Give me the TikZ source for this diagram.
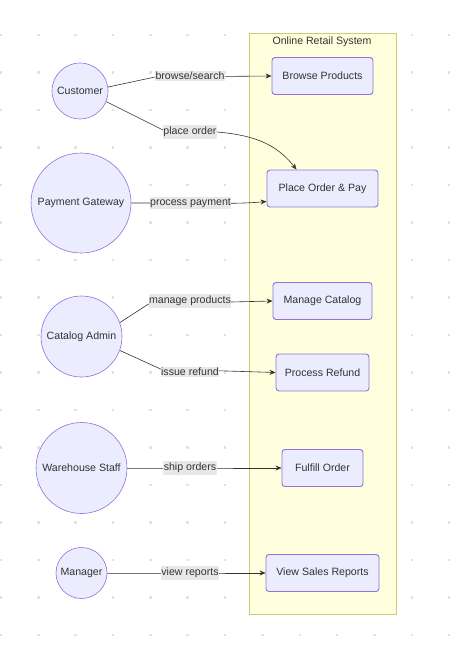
\documentclass[tikz,border=0pt]{standalone}
\usepackage{fontspec}
\setmainfont{Liberation Sans}
\usetikzlibrary{arrows.meta}
\definecolor{nodefill}{HTML}{ECECFF}
\definecolor{nodeline}{HTML}{9370DB}
\definecolor{sysfill}{HTML}{FFFFDE}
\definecolor{sysline}{HTML}{CCCC77}
\definecolor{edgec}{HTML}{333333}
\definecolor{lblbg}{HTML}{E8E8E8}
\definecolor{dotc}{HTML}{E2E2E2}
\pgfdeclarelayer{back}
\pgfdeclarelayer{edges}
\pgfsetlayers{back,edges,main}
\begin{document}
\begin{tikzpicture}[x=1pt,y=-1pt,
  font=\fontsize{10.6}{12}\selectfont,
  actor/.style={circle,draw=nodeline,fill=nodefill,line width=0.6pt,inner sep=0pt,text=edgec},
  usecase/.style={rectangle,rounded corners=3pt,draw=nodeline,fill=nodefill,line width=0.9pt,inner sep=0pt,minimum height=37pt,text=edgec},
  elabel/.style={fill=lblbg,inner xsep=0.3pt,inner ysep=1.6pt,text=edgec},
  edge/.style={draw=edgec,line width=0.6pt,-{Stealth[length=6pt,width=5pt]}}]

\useasboundingbox (0,0) rectangle (450,651);

\begin{pgfonlayer}{back}
  \foreach \i in {0,...,12} {
    \foreach \j in {0,...,16} {
      \fill[dotc] ({1+37.35*\i-1.3},{35+37.5*\j-1.3}) rectangle ++(2.6,2.6);
    }
  }
  \node[draw=sysline,fill=sysfill,line width=0.8pt,inner sep=0pt,
        minimum width=147pt,minimum height=581pt] (sys) at (322.5,323.5) {};
  \node[text=edgec,anchor=center] (systitle) at (322,42) {Online Retail System};
\end{pgfonlayer}

% actors
\node[actor,minimum size=56pt] (cust) at (80,91) {Customer};
\node[actor,minimum size=100pt] (pg) at (81,203) {Payment Gateway};
\node[actor,minimum size=81pt] (ca) at (81.5,336.5) {Catalog Admin};
\node[actor,minimum size=91pt] (ws) at (81.5,468) {Warehouse Staff};
\node[actor,minimum size=51pt] (mgr) at (81.5,573) {Manager};

% use cases
\node[usecase,minimum width=101pt] (bp) at (322.5,76) {Browse Products};
\node[usecase,minimum width=111pt] (po) at (322.5,188.5) {Place Order \& Pay};
\node[usecase,minimum width=99pt] (mc) at (322.5,301) {Manage Catalog};
\node[usecase,minimum width=93pt] (pr) at (322.5,372.5) {Process Refund};
\node[usecase,minimum width=81pt] (fo) at (322.5,468) {Fulfill Order};
\node[usecase,minimum width=113pt] (vr) at (322.5,573) {View Sales Reports};

% edge labels
\node[elabel] (l1) at (190,76) {browse/search};
\node[elabel] (l2) at (190,132) {place order};
\node[elabel] (l3) at (190.5,203) {process payment};
\node[elabel] (l4) at (190,301) {manage products};
\node[elabel] (l5) at (190,372) {issue refund};
\node[elabel] (l6) at (190,468) {ship orders};
\node[elabel] (l7) at (190,573) {view reports};

\begin{pgfonlayer}{edges}
  \draw[edge] (cust.8) -- ([yshift=-1pt]l1.west) -- (bp.west);
  \draw[edge] (cust.-22) -- ([yshift=2pt]l2.west) -- (l2.east)
              to[out=-5,in=128] ([xshift=-26pt]po.north);
  \draw[edge] (pg.east) -- (l3.center) to[out=0,in=185] ([yshift=-13pt]po.west);
  \draw[edge] (ca.20) -- ([yshift=-3pt]l4.west) -- (mc.west);
  \draw[edge] (ca.-20) -- ([yshift=3pt]l5.west) -- (pr.west);
  \draw[edge] (ws.east) -- (l6.center) -- (fo.west);
  \draw[edge] (mgr.east) -- (l7.center) -- (vr.west);
\end{pgfonlayer}
\end{tikzpicture}
\end{document}
